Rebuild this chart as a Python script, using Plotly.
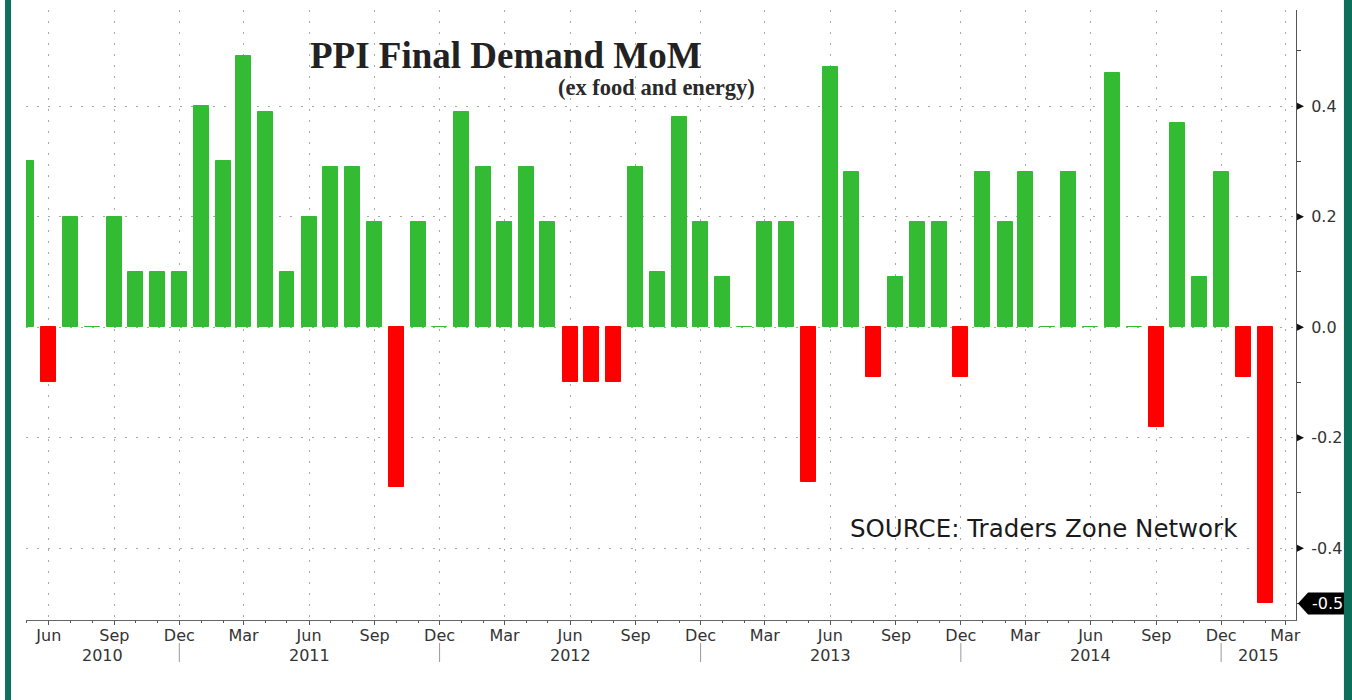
import plotly.graph_objects as go

# ---------------- data ----------------
months = [
    "2010-05", "2010-06", "2010-07", "2010-08", "2010-09", "2010-10", "2010-11", "2010-12",
    "2011-01", "2011-02", "2011-03", "2011-04", "2011-05", "2011-06", "2011-07", "2011-08",
    "2011-09", "2011-10", "2011-11", "2011-12",
    "2012-01", "2012-02", "2012-03", "2012-04", "2012-05", "2012-06", "2012-07", "2012-08",
    "2012-09", "2012-10", "2012-11", "2012-12",
    "2013-01", "2013-02", "2013-03", "2013-04", "2013-05", "2013-06", "2013-07", "2013-08",
    "2013-09", "2013-10", "2013-11", "2013-12",
    "2014-01", "2014-02", "2014-03", "2014-04", "2014-05", "2014-06", "2014-07", "2014-08",
    "2014-09", "2014-10", "2014-11", "2014-12",
    "2015-01", "2015-02",
]
ppi_mom = [
    0.30, -0.10, 0.20, 0.00, 0.20, 0.10, 0.10, 0.10,
    0.40, 0.30, 0.49, 0.39, 0.10, 0.20, 0.29, 0.29,
    0.19, -0.29, 0.19, 0.00,
    0.39, 0.29, 0.19, 0.29, 0.19, -0.10, -0.10, -0.10,
    0.29, 0.10, 0.38, 0.19,
    0.09, 0.00, 0.19, 0.19, -0.28, 0.47, 0.28, -0.09,
    0.09, 0.19, 0.19, -0.09,
    0.28, 0.19, 0.28, 0.00, 0.28, 0.00, 0.46, 0.00,
    -0.18, 0.37, 0.09, 0.28,
    -0.09, -0.50,
]
x_tick_dates = [
    "2010-06-01", "2010-09-01", "2010-12-01",
    "2011-03-01", "2011-06-01", "2011-09-01", "2011-12-01",
    "2012-03-01", "2012-06-01", "2012-09-01", "2012-12-01",
    "2013-03-01", "2013-06-01", "2013-09-01", "2013-12-01",
    "2014-03-01", "2014-06-01", "2014-09-01", "2014-12-01",
    "2015-03-01",
]
x_tick_labels = [
    "Jun", "Sep", "Dec",
    "Mar", "Jun", "Sep", "Dec",
    "Mar", "Jun", "Sep", "Dec",
    "Mar", "Jun", "Sep", "Dec",
    "Mar", "Jun", "Sep", "Dec",
    "Mar",
]
year_labels = ["2010", "2011", "2012", "2013", "2014", "2015"]
year_label_pos = ["2010-08-15", "2011-06-01", "2012-06-01", "2013-06-01", "2014-06-01", "2015-01-22"]
year_separators = ["2010-12-01", "2011-12-01", "2012-12-01", "2013-12-01", "2014-12-01"]
y_tick_vals = [0.4, 0.2, 0.0, -0.2, -0.4]
y_tick_labels = ["0.4", "0.2", "0.0", "-0.2", "-0.4"]

title_text = "PPI Final Demand MoM"
subtitle_text = "(ex food and energy)"
source_text = "SOURCE: Traders Zone Network"

# ---------------- style ----------------
GREEN = "#33bc33"
RED = "#ff0000"
GRID = "#a8a8a8"
TEAL = "#0d6e5b"
W, H = 1352, 700
PL, PR, PT, PB = 26, 1298, 10, 620  # plot area in pixels


def px_x(px):
    return (px - PL) / (PR - PL)


def px_y(py):
    return (PB - py) / (PB - PT)


x_dates = [m + "-01" for m in months]
colors = [GREEN if v >= 0 else RED for v in ppi_mom]
DAY_MS = 86400000

fig = go.Figure()
fig.add_trace(go.Bar(
    x=x_dates, y=ppi_mom,
    width=[21 * DAY_MS] * len(ppi_mom),
    marker=dict(color=colors, line=dict(color=colors, width=1)),
    hoverinfo="x+y",
))

shapes = []
# white patch hiding grid (as in the reference image)
shapes.append(dict(type="rect", xref="paper", yref="paper",
                   x0=px_x(87), x1=px_x(632), y0=px_y(619), y1=px_y(537),
                   fillcolor="white", line_width=0, layer="between"))
# y tick triangles
for v in y_tick_vals:
    shapes.append(dict(type="path", xref="paper", yref="y",
                       xsizemode="pixel", ysizemode="pixel",
                       xanchor=1, yanchor=v,
                       path="M 1 3.5 L 8 0 L 1 -3.5 Z",
                       fillcolor="#111", line_width=0))
# last value tag
last_val = ppi_mom[-1]
shapes.append(dict(type="path", xref="paper", yref="y",
                   xsizemode="pixel", ysizemode="pixel",
                   xanchor=1, yanchor=last_val,
                   path="M 2 0 L 12 11 L 50 11 L 50 -11 L 12 -11 Z",
                   fillcolor="#000", line_width=0))
# year separators
for d in year_separators:
    shapes.append(dict(type="line", xref="x", yref="paper",
                       x0=d, x1=d, y0=px_y(643), y1=px_y(662),
                       line=dict(color="#999", width=1)))
# teal frame strips
shapes.append(dict(type="rect", xref="paper", yref="paper",
                   x0=px_x(5), x1=px_x(11), y0=px_y(H + 5), y1=px_y(-5),
                   fillcolor=TEAL, line_width=0))
shapes.append(dict(type="rect", xref="paper", yref="paper",
                   x0=px_x(1346), x1=px_x(W + 5), y0=px_y(H + 5), y1=px_y(-5),
                   fillcolor=TEAL, line_width=0))

annotations = []
for lab, pos in zip(year_labels, year_label_pos):
    annotations.append(dict(x=pos, y=px_y(655), xref="x", yref="paper",
                            text=lab, showarrow=False, xanchor="center", yanchor="middle",
                            font=dict(family="DejaVu Sans", size=16, color="#333")))
annotations.append(dict(x=px_x(308), y=px_y(56), xref="paper", yref="paper",
                        text="<b>" + title_text + "</b>", showarrow=False,
                        xanchor="left", yanchor="middle",
                        font=dict(family="Liberation Serif", size=37, color="#222")))
annotations.append(dict(x=px_x(758), y=px_y(88), xref="paper", yref="paper",
                        text="<b>" + subtitle_text + "</b>", showarrow=False,
                        xanchor="right", yanchor="middle",
                        font=dict(family="Liberation Serif", size=22.5, color="#2a2a2a")))
annotations.append(dict(x=px_x(849), y=px_y(528), xref="paper", yref="paper",
                        text=source_text, showarrow=False, xanchor="left", yanchor="middle",
                        font=dict(family="DejaVu Sans", size=24.5, color="#1a1a1a")))
annotations.append(dict(x=1, y=last_val, xref="paper", yref="y",
                        text=f"{last_val:.1f}", showarrow=False, xanchor="center", yanchor="middle",
                        xshift=31,
                        font=dict(family="DejaVu Sans", size=16, color="white")))

fig.update_layout(
    width=W, height=H,
    margin=dict(l=PL, r=W - PR, t=PT, b=H - PB),
    paper_bgcolor="white", plot_bgcolor="white",
    showlegend=False,
    bargap=0,
    shapes=shapes,
    annotations=annotations,
    xaxis=dict(
        type="date",
        range=["2010-04-30", "2015-03-16"],
        tickmode="array", tickvals=x_tick_dates, ticktext=x_tick_labels,
        ticks="outside", ticklen=4, tickcolor="#555", tickwidth=1,
        ticklabelstandoff=-3,
        minor=dict(dtick="M1", tick0="2010-01-01", ticks="outside", ticklen=2,
                   tickcolor="#555", showgrid=False),
        showgrid=True, gridcolor=GRID, gridwidth=1, griddash="2px,9px",
        showline=True, linecolor="#666", linewidth=1,
        tickfont=dict(family="DejaVu Sans", size=16, color="#333"),
        zeroline=False, fixedrange=True,
    ),
    yaxis=dict(
        side="right",
        range=[-0.530, 0.574],
        tickmode="array", tickvals=y_tick_vals, ticktext=y_tick_labels,
        ticks="outside", ticklen=11, tickcolor="rgba(0,0,0,0)",
        minor=dict(tickmode="linear", tick0=0.1, dtick=0.2, ticks="outside", ticklen=4,
                   tickcolor="#444", showgrid=False),
        showgrid=True, gridcolor=GRID, gridwidth=1, griddash="2px,9px",
        showline=True, linecolor="#555", linewidth=1,
        tickfont=dict(family="DejaVu Sans", size=16, color="#333"),
        zeroline=False, fixedrange=True,
    ),
)

fig.write_html(
    "out.html",
    config={"displayModeBar": False},
    post_script="document.body.style.margin='0';document.body.style.overflow='hidden';",
)
